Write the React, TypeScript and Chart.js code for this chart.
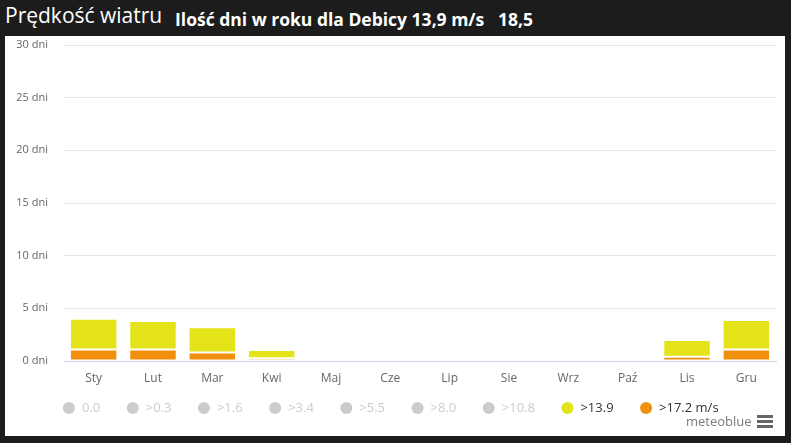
import React, { useEffect, useRef } from "react";
import { Chart, registerables } from "chart.js";

Chart.register(...registerables);

const categories = ["Sty", "Lut", "Mar", "Kwi", "Maj", "Cze", "Lip", "Sie", "Wrz", "Paź", "Lis", "Gru"];
const daysOver172 = [1.1, 1.1, 0.8, 0.25, 0, 0, 0, 0, 0, 0, 0.4, 1.1];
const daysOver139 = [2.9, 2.7, 2.4, 0.8, 0, 0, 0, 0, 0, 0.2, 1.6, 2.8];
const yTicks = [0, 5, 10, 15, 20, 25, 30];
const hiddenLegend = ["0.0", ">0.3", ">1.6", ">3.4", ">5.5", ">8.0", ">10.8"];
const visibleLegend = [">13.9", ">17.2 m/s"];

const YELLOW = "#e4e31a";
const ORANGE = "#f0900c";
const FONT = "'Open Sans', 'DejaVu Sans', sans-serif";

const legendShift = {
  id: "legendShift",
  afterLayout(chart: any) {
    const lg = chart.legend;
    if (lg) {
      lg.top -= 10.5;
      lg.bottom -= 10.5;
    }
  },
};

export default function App() {
  const ref = useRef<HTMLCanvasElement>(null);

  useEffect(() => {
    document.body.style.margin = "0";
    const canvas = ref.current;
    if (!canvas) return;
    const chart = new Chart(canvas, {
      type: "bar",
      plugins: [legendShift],
      data: {
        labels: categories,
        datasets: [
          {
            label: visibleLegend[1],
            data: daysOver172,
            backgroundColor: ORANGE,
            borderColor: "#ffffff",
            borderWidth: 1,
            borderSkipped: false,
            categoryPercentage: 1,
            barPercentage: 0.8,
          },
          {
            label: visibleLegend[0],
            data: daysOver139,
            backgroundColor: YELLOW,
            borderColor: "#ffffff",
            borderWidth: 1,
            borderSkipped: false,
            categoryPercentage: 1,
            barPercentage: 0.8,
          },
        ],
      },
      options: {
        responsive: false,
        animation: false,
        maintainAspectRatio: false,
        layout: { padding: { top: 9, right: 9, left: 0, bottom: 1 } },
        plugins: {
          tooltip: { enabled: false },
          title: { display: false },
          legend: {
            position: "bottom",
            onClick: () => {},
            labels: {
              usePointStyle: true,
              boxHeight: 8.5,
              boxWidth: 13,
              padding: 26,
              font: { family: FONT, size: 13 },
              generateLabels: () => {
                const items: any[] = hiddenLegend.map((t) => ({
                  text: t,
                  fillStyle: "#cccccc",
                  strokeStyle: "#cccccc",
                  fontColor: "#cccccc",
                  lineWidth: 0,
                  hidden: false,
                  pointStyle: "circle",
                }));
                items.push({
                  text: visibleLegend[0],
                  fillStyle: YELLOW,
                  strokeStyle: YELLOW,
                  fontColor: "#333333",
                  lineWidth: 0,
                  hidden: false,
                  pointStyle: "circle",
                  datasetIndex: 1,
                });
                items.push({
                  text: visibleLegend[1],
                  fillStyle: ORANGE,
                  strokeStyle: ORANGE,
                  fontColor: "#333333",
                  lineWidth: 0,
                  hidden: false,
                  pointStyle: "circle",
                  datasetIndex: 0,
                });
                return items;
              },
            },
          },
        },
        scales: {
          x: {
            stacked: true,
            grid: { display: false, drawTicks: false },
            border: { display: true, color: "#ccd6eb" },
            ticks: { color: "#666666", padding: 10, font: { family: FONT, size: 12 } },
            afterFit: (s: any) => {
              s.height = 25;
            },
          },
          y: {
            stacked: true,
            min: 0,
            max: 30,
            afterBuildTicks: (s: any) => {
              s.ticks = yTicks.map((v) => ({ value: v }));
            },
            grid: {
              drawTicks: false,
              color: (c: any) => (c.tick && c.tick.value === 0 ? "#ccd6eb" : "#e6e6e6"),
            },
            border: { display: false },
            ticks: {
              color: "#666666",
              padding: 16,
              font: { family: FONT, size: 11 },
              callback: (v: any) => `${v} dni`,
            },
            afterFit: (s: any) => {
              s.width = 59;
              s.paddingTop = 0;
              s.paddingBottom = 0;
            },
          },
        },
      },
    });
    return () => chart.destroy();
  }, []);

  return (
    <div
      style={{
        position: "relative",
        width: 791,
        height: 443,
        background: "#1c1c1c",
        overflow: "hidden",
        fontFamily: FONT,
      }}
    >
      <div
        style={{
          position: "absolute",
          left: 5,
          top: 0,
          color: "#ffffff",
          fontSize: 21,
          lineHeight: "30px",
          whiteSpace: "pre",
        }}
      >
        Prędkość wiatru
      </div>
      <div
        style={{
          position: "absolute",
          left: 175,
          top: 5,
          color: "#ffffff",
          fontSize: 17.5,
          fontWeight: 700,
          lineHeight: "28px",
          whiteSpace: "pre",
        }}
      >
        {"Ilość dni w roku dla Debicy 13,9 m/s   18,5"}
      </div>
      <div
        style={{
          position: "absolute",
          left: 5,
          top: 36,
          width: 780,
          height: 400,
          background: "#ffffff",
        }}
      >
        <canvas ref={ref} width={780} height={400} style={{ display: "block", width: 780, height: 400 }} />
        <div
          style={{
            position: "absolute",
            left: 681,
            top: 376,
            color: "#7a7a7a",
            fontSize: 13,
            lineHeight: "18px",
            whiteSpace: "pre",
          }}
        >
          meteoblue
        </div>
        <div style={{ position: "absolute", left: 752, top: 379, width: 16 }}>
          <div style={{ height: 2.5, background: "#666", marginBottom: 2.5 }} />
          <div style={{ height: 2.5, background: "#666", marginBottom: 2.5 }} />
          <div style={{ height: 2.5, background: "#666" }} />
        </div>
      </div>
    </div>
  );
}
